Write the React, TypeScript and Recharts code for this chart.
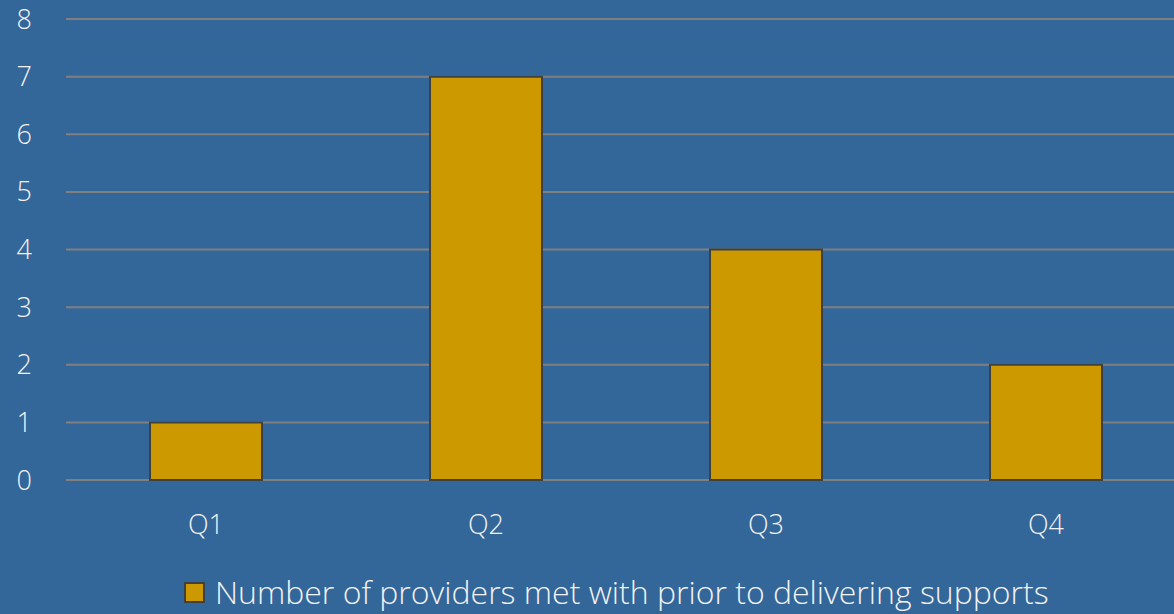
import React from 'react';
import { BarChart, Bar, XAxis, YAxis, CartesianGrid, Legend } from 'recharts';

const categories = ['Q1', 'Q2', 'Q3', 'Q4'];
const providersMet = [1, 7, 4, 2];
const yTicks = [0, 1, 2, 3, 4, 5, 6, 7, 8];
const seriesName = 'Number of providers met with prior to delivering supports';

const data = categories.map((q, i) => ({ quarter: q, value: providersMet[i] }));

const FONT = '"Open Sans", sans-serif';
const TEXT_COLOR = '#F2F2F2';
const BAR_FILL = '#CC9900';
const BAR_STROKE = '#404040';

const LegendContent = () => (
  <div style={{ position: 'relative', height: 74, width: 1174 }}>
    <div
      style={{
        position: 'absolute',
        left: 184,
        top: 34,
        display: 'flex',
        alignItems: 'center',
        fontFamily: FONT,
        fontWeight: 300,
        fontSize: 32,
        color: TEXT_COLOR,
        whiteSpace: 'nowrap',
        lineHeight: '36px',
        height: 36,
      }}
    >
      <span
        style={{
          display: 'inline-block',
          width: 17,
          height: 17,
          background: BAR_FILL,
          border: `2px solid ${BAR_STROKE}`,
          marginRight: 10,
        }}
      />
      <span>{seriesName}</span>
    </div>
  </div>
);

export default function App() {
  return (
    <div style={{ position: 'absolute', left: 0, top: 0, width: 1174, height: 614, background: '#336699', overflow: 'hidden' }}>
      <BarChart
        width={1174}
        height={614}
        data={data}
        margin={{ top: 19, right: -12, left: 0, bottom: 0 }}
        barSize={112}
      >
        <CartesianGrid horizontal={true} vertical={false} stroke="#808080" strokeWidth={2} />
        <XAxis
          dataKey="quarter"
          axisLine={false}
          tickLine={false}
          tickSize={0}
          tickMargin={35}
          height={60}
          tick={{ fill: TEXT_COLOR, fontSize: 27, fontFamily: FONT, fontWeight: 300 }}
        />
        <YAxis
          domain={[0, 8]}
          ticks={yTicks}
          axisLine={false}
          tickLine={false}
          tickSize={0}
          tickMargin={34}
          width={66}
          interval={0}
          tick={{ fill: TEXT_COLOR, fontSize: 27, fontFamily: FONT, fontWeight: 300 }}
        />
        <Legend verticalAlign="bottom" height={74} content={<LegendContent />} wrapperStyle={{ left: 0, width: 1174 }} />
        <Bar
          dataKey="value"
          name={seriesName}
          fill={BAR_FILL}
          stroke={BAR_STROKE}
          strokeWidth={2}
          isAnimationActive={false}
        />
      </BarChart>
    </div>
  );
}
